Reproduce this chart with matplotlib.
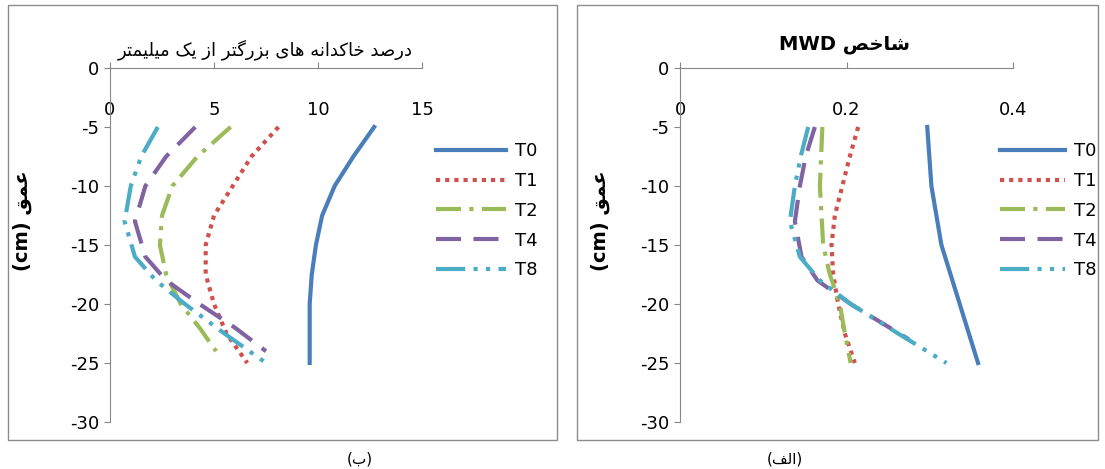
import matplotlib
matplotlib.use("Agg")
import matplotlib.pyplot as plt
from matplotlib.patches import Rectangle
plt.rcParams['axes.unicode_minus'] = False

# ---- Persian shaping helper ----
FORMS = {
 'ا':(0xFE8D,0xFE8E,None,None),'ب':(0xFE8F,0xFE90,0xFE91,0xFE92),'ت':(0xFE95,0xFE96,0xFE97,0xFE98),
 'خ':(0xFEA5,0xFEA6,0xFEA7,0xFEA8),'د':(0xFEA9,0xFEAA,None,None),'ر':(0xFEAD,0xFEAE,None,None),
 'ز':(0xFEAF,0xFEB0,None,None),'ش':(0xFEB5,0xFEB6,0xFEB7,0xFEB8),'ص':(0xFEB9,0xFEBA,0xFEBB,0xFEBC),
 'ع':(0xFEC9,0xFECA,0xFECB,0xFECC),'ف':(0xFED1,0xFED2,0xFED3,0xFED4),'ق':(0xFED5,0xFED6,0xFED7,0xFED8),
 'ل':(0xFEDD,0xFEDE,0xFEDF,0xFEE0),'م':(0xFEE1,0xFEE2,0xFEE3,0xFEE4),'ن':(0xFEE5,0xFEE6,0xFEE7,0xFEE8),
 'ه':(0xFEE9,0xFEEA,0xFEEB,0xFEEC),'ک':(0xFB8E,0xFB8F,0xFB90,0xFB91),'گ':(0xFB92,0xFB93,0xFB94,0xFB95),
 'ی':(0xFBFC,0xFBFD,0xFBFE,0xFBFF)}
def shape(s):
    out=[]
    for i,c in enumerate(s):
        if c not in FORMS: out.append(c); continue
        p = s[i-1] if i>0 else ''
        n = s[i+1] if i+1<len(s) else ''
        jp = p in FORMS and FORMS[p][2] is not None
        jn = n in FORMS and FORMS[c][2] is not None
        f = FORMS[c]
        if jp and jn: k=f[3]
        elif jp: k=f[1]
        elif jn: k=f[2]
        else: k=f[0]
        out.append(chr(k))
    return ''.join(out)[::-1]

# ---- data ----
series = ['T0','T1','T2','T4','T8']
depth_L = {
 'T0':[-5,-7.5,-10,-12.5,-15,-17.5,-20,-25],
 'T1':[-5,-7.5,-10,-12.5,-15,-17.5,-20,-22.5,-25],
 'T2':[-5,-7.5,-10,-12.5,-15,-17.5,-20,-22,-24],
 'T4':[-5,-7.5,-10,-13,-16,-18,-20,-22,-24],
 'T8':[-5,-7.5,-10,-13,-16,-18,-20,-22.5,-25]}
val_L = {
 'T0':[12.7,11.7,10.8,10.2,9.9,9.7,9.6,9.6],
 'T1':[8.1,6.8,5.9,5.0,4.6,4.6,5.0,5.6,6.6],
 'T2':[5.8,4.2,3.0,2.5,2.4,2.7,3.4,4.3,5.1],
 'T4':[4.1,2.7,1.7,1.2,1.7,2.7,4.3,6.0,7.5],
 'T8':[2.3,1.5,1.0,0.7,1.2,2.2,3.6,5.5,7.5]}
depth_R = {
 'T0':[-5,-10,-15,-20,-25],
 'T1':[-5,-7.5,-10,-12.5,-15,-17.5,-20,-22.5,-25],
 'T2':[-5,-10,-15,-17.5,-20,-22.5,-25],
 'T4':[-5,-7.5,-10,-13,-16,-18,-20,-23],
 'T8':[-5,-7.5,-10,-13,-16,-18,-20,-22.5,-25]}
val_R = {
 'T0':[0.297,0.302,0.314,0.336,0.358],
 'T1':[0.214,0.204,0.195,0.186,0.182,0.184,0.190,0.198,0.210],
 'T2':[0.171,0.168,0.172,0.180,0.192,0.198,0.205],
 'T4':[0.162,0.151,0.144,0.138,0.146,0.165,0.205,0.275],
 'T8':[0.154,0.145,0.138,0.132,0.144,0.168,0.205,0.262,0.320]}

styles = {
 'T0':dict(color='#4A7EBB',ls='-'),
 'T1':dict(color='#D0504D',ls=(0,(1,1.2))),
 'T2':dict(color='#9BBB59',ls=(0,(6,2,1,2))),
 'T4':dict(color='#8064A2',ls=(0,(6,3))),
 'T8':dict(color='#4BACC6',ls=(0,(7,2,1,2,1,2)))}

fig = plt.figure(figsize=(11.05,4.69), dpi=100)
fig.patches.append(Rectangle((8/1105,(469-440)/469),549/1105,435/469,transform=fig.transFigure,fill=False,ec='#8c8c8c',lw=1))
fig.patches.append(Rectangle((577/1105,(469-440)/469),521/1105,435/469,transform=fig.transFigure,fill=False,ec='#8c8c8c',lw=1))

def setup(ax, xmax, xt, xtl):
    ax.set_xlim(0,xmax); ax.set_ylim(-30,0)
    ax.spines['top'].set_visible(False); ax.spines['right'].set_visible(False)
    ax.spines['bottom'].set_position(('data',0))
    for s in ['left','bottom']: ax.spines[s].set_color('#888888')
    ax.set_xticks(xt); ax.set_xticklabels(xtl)
    ax.set_yticks(range(-30,1,5))
    ax.tick_params(axis='x', direction='in', length=4, labelsize=13, pad=24, color='#888888')
    ax.tick_params(axis='y', direction='out', length=4, labelsize=13, color='#888888')
    ax.set_facecolor('none')

axL = fig.add_axes([110/1105,47/469,312/1105,354/469])
axR = fig.add_axes([680/1105,47/469,333/1105,354/469])
setup(axL,15,[0,5,10,15],['0','5','10','15'])
setup(axR,0.4,[0,0.2,0.4],['0','0.2','0.4'])
for s in series:
    axL.plot(val_L[s],depth_L[s],lw=3,label=s,**styles[s])
    axR.plot(val_R[s],depth_R[s],lw=3,label=s,**styles[s])

for ax,x,hl in [(axL,1.045,3.9),(axR,0.96,3.6)]:
    ax.legend(loc='upper left',bbox_to_anchor=(x,0.79),frameon=False,fontsize=13,borderaxespad=0,borderpad=0,
              handlelength=hl,handletextpad=0.5,labelspacing=0.65,bbox_transform=ax.transAxes)

fa = ['DejaVu Sans']
ylab = '(cm) ' + shape('عمق')
for ax,x in [(axL,22/1105),(axR,600/1105)]:
    fig.text(x,0.53,ylab,rotation=90,ha='center',va='center',fontsize=14,fontweight='bold',family=fa)
fig.text(265/1105,1-50/469,shape('درصد خاکدانه های بزرگتر از یک میلیمتر'),ha='center',va='center',fontsize=13,family=fa)
fig.text(845/1105,1-45/469,'MWD '+shape('شاخص'),ha='center',va='center',fontsize=14,fontweight='bold',family=fa)
fig.text(360/1105,1-459/469,'('+shape('ب')+')',ha='center',va='center',fontsize=11,family=fa)
fig.text(785/1105,1-459/469,'('+shape('الف')+')',ha='center',va='center',fontsize=11,family=fa)
fig.savefig('out.png',dpi=100)
